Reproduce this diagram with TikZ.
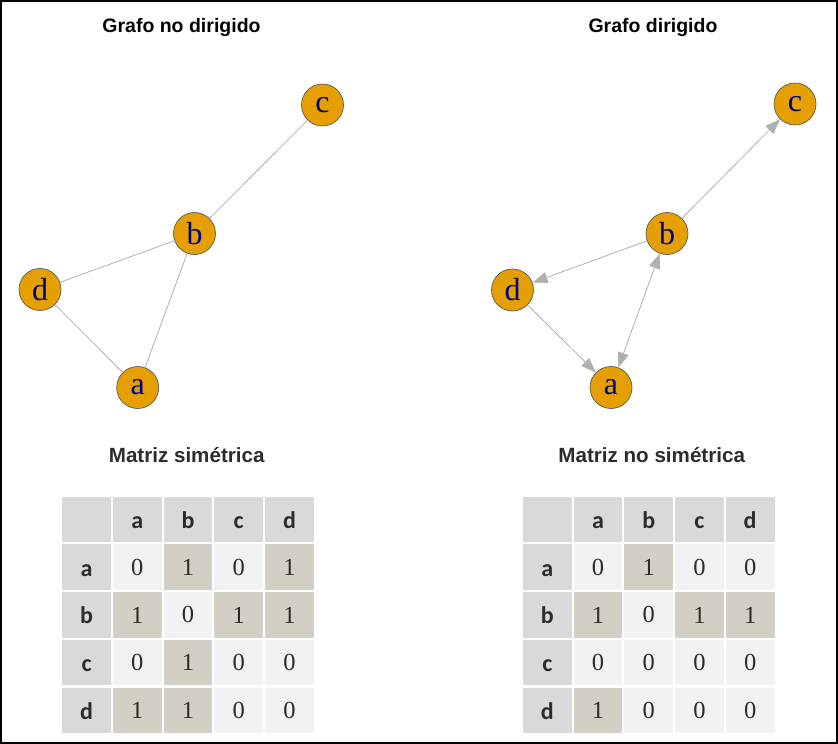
\documentclass[tikz,border=0pt]{standalone}
\usepackage{fontspec}
\setmainfont{Liberation Serif}
\newfontfamily\titlefont{Liberation Sans}
\newfontfamily\cellfont{Carlito}
\usepackage{tikz}
\usetikzlibrary{positioning, arrows.meta}
\usepackage{xcolor}
\definecolor{vorange}{HTML}{E69F00}
\definecolor{vblue}{HTML}{00008B}
\definecolor{edgegray}{HTML}{B0B0B0}
\definecolor{hdrgray}{HTML}{D9D9D9}
\definecolor{zerogray}{HTML}{F2F2F2}
\definecolor{onebeige}{HTML}{D4CFC4}
\definecolor{txtdark}{HTML}{2E2B28}

\begin{document}
\begin{tikzpicture}[x=1pt, y=-1pt,
                  vtx/.style={circle, draw=black!65, fill=vorange, line width=0.7pt,
                              minimum size=42pt, inner sep=0pt, text=vblue,
                              font=\fontsize{32}{32}\selectfont},
                  edge/.style={draw=edgegray, line width=0.8pt},
                  arr/.style={edge, -{Triangle[length=15pt, width=11pt]}},
                  dblarr/.style={edge, {Triangle[length=15pt, width=11pt]}-{Triangle[length=15pt, width=11pt]}},
                  ttl/.style={anchor=base, font=\titlefont\bfseries\fontsize{19.5}{20}\selectfont},
                  mttl/.style={ttl, text=txtdark, font=\titlefont\bfseries\fontsize{20.6}{21}\selectfont},
                  cell/.style={minimum width=48.7pt, minimum height=45.5pt, inner sep=0pt, text=txtdark},
                  hdr/.style={cell, fill=hdrgray, text height=17.6pt, text depth=0pt,
                              font=\cellfont\bfseries\fontsize{24}{24}\selectfont},
                  val0/.style={cell, fill=zerogray, font=\fontsize{24.5}{24.5}\selectfont},
                  val1/.style={cell, fill=onebeige, font=\fontsize{24.5}{24.5}\selectfont},
            ]
            \useasboundingbox (0,0) rectangle (838,744);
            \draw[line width=2pt] (1,1) rectangle (837,743);

            % titles
            \node[ttl] (tund) at (181.5,32.5) {Grafo no dirigido};
            \node[ttl] (tdir) at (653,32.5) {Grafo dirigido};
            \node[mttl] (tsym) at (186.7,462.3) {Matriz simétrica};
            \node[mttl] (tasym) at (651.7,462.3) {Matriz no simétrica};

            % undirected graph
            \node[vtx] (ua) at (137.7,387.5) {a};
            \node[vtx] (ub) at (194.5,233.5) {b};
            \node[vtx] (uc) at (322.5,105) {c};
            \node[vtx] (ud) at (40,289.5) {d};
            \draw[edge] (ub) -- (uc);
            \draw[edge] (ub) -- (ud);
            \draw[edge] (ub) -- (ua);
            \draw[edge] (ud) -- (ua);

            % directed graph
            \node[vtx] (da) at (611,387.5) {a};
            \node[vtx] (db) at (667,233.5) {b};
            \node[vtx] (dc) at (795,104) {c};
            \node[vtx] (dd) at (512.5,290) {d};
            \draw[arr] (db) -- (dc);
            \draw[arr] (db) -- (dd);
            \draw[arr] (dd) -- (da);
            \draw[dblarr] (da) -- (db);

            % symmetric matrix
            \node[hdr] (Lcorner) at (86.65,519.45) {};
            \foreach \lbl [count=\i] in {a,b,c,d} {
              \node[hdr] (Lh\i) at (86.65+50.7*\i,519.45) {\lbl};
              \node[hdr] (Lr\i) at (86.65,519.45+47.75*\i) {\lbl};
            }
            \foreach \row [count=\j] in {{0,1,0,1},{1,0,1,1},{0,1,0,0},{1,1,0,0}}
              \foreach \v [count=\i] in \row
                \node[val\v] (L\j\i) at (86.65+50.7*\i,519.45+47.75*\j) {\v};

            % non-symmetric matrix
            \node[hdr] (Rcorner) at (547.35,519.45) {};
            \foreach \lbl [count=\i] in {a,b,c,d} {
              \node[hdr] (Rh\i) at (547.35+50.7*\i,519.45) {\lbl};
              \node[hdr] (Rr\i) at (547.35,519.45+47.75*\i) {\lbl};
            }
            \foreach \row [count=\j] in {{0,1,0,0},{1,0,1,1},{0,0,0,0},{1,0,0,0}}
              \foreach \v [count=\i] in \row
                \node[val\v] (R\j\i) at (547.35+50.7*\i,519.45+47.75*\j) {\v};

      \end{tikzpicture}
\end{document}
